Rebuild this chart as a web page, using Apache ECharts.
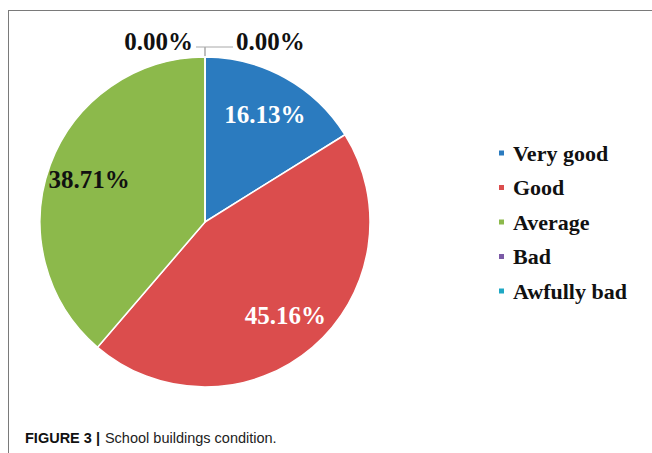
<!DOCTYPE html>
<html>
<head>
<meta charset="utf-8">
<script src="https://cdn.jsdelivr.net/npm/echarts@6/dist/echarts.min.js"></script>
<style>
  html, body { margin: 0; padding: 0; background: #fff; }
  #chart { position: absolute; left: 0; top: 0; width: 652px; height: 453px; }
  #frame { position: absolute; left: 8px; top: 10px; width: 660px; height: 460px;
           border-top: 1.5px solid #7a7a7a; border-left: 1.5px solid #7a7a7a; pointer-events: none; }
</style>
</head>
<body>
<div id="chart"></div>
<div id="frame"></div>
<script>
// ---- data ----
var categories = ['Very good', 'Good', 'Average', 'Bad', 'Awfully bad'];
var counts = [5, 14, 12, 0, 0];
var captionBold = 'FIGURE 3 |';
var captionText = 'School buildings condition.';

// ---- styles ----
var sliceColors = {
  'Very good': '#2b7bbf',
  'Good': '#db4d4d',
  'Average': '#8cb94b',
  'Bad': '#7b5aa6',
  'Awfully bad': '#1fa8c4'
};
var insideLabelColors = {
  'Very good': '#ffffff',
  'Good': '#ffffff',
  'Average': '#111111'
};
// leader-line second segment per zero slice (left one shorter, right one longer)
var leaderLength2 = { 'Bad': 9, 'Awfully bad': 28 };

// Order drawn: put one zero slice at the start and one at the end so their
// labels fall on either side of the 12 o'clock point, as in the reference.
var drawOrder = [4, 0, 1, 2, 3];

var serif = "'Liberation Serif', 'Times New Roman', serif";

var mainData = drawOrder.map(function (i) {
  var zero = counts[i] === 0;
  var name = categories[i];
  return {
    name: name,
    value: counts[i],
    itemStyle: { color: sliceColors[name] },
    label: { show: zero },
    labelLine: { show: zero, length2: leaderLength2[name] || 10 }
  };
});
var overlayData = drawOrder.map(function (i) {
  var zero = counts[i] === 0;
  return {
    name: categories[i],
    value: counts[i],
    label: { show: !zero, color: insideLabelColors[categories[i]] || '#111' }
  };
});

function pct(p) { return p.percent.toFixed(2) + '%'; }
function pctRaised(p) { return '{t|' + p.percent.toFixed(2) + '%}\n{s|}'; }

var chart = echarts.init(document.getElementById('chart'), null, { renderer: 'svg' });
chart.setOption({
  animation: false,
  backgroundColor: '#ffffff',
  title: {
    left: 25,
    top: 429,
    padding: 0,
    text: '{b|' + captionBold + '} {n|' + captionText + '}',
    textStyle: {
      rich: {
        b: { fontFamily: "'Liberation Sans', Arial, sans-serif", fontWeight: 'bold', fontSize: 14.5, color: '#111' },
        n: { fontFamily: "'Liberation Sans', Arial, sans-serif", fontWeight: 'normal', fontSize: 14.5, color: '#222' }
      }
    }
  },
  legend: {
    orient: 'vertical',
    left: 497,
    top: 142,
    padding: 0,
    data: categories,
    icon: 'rect',
    itemWidth: 7,
    itemHeight: 7,
    itemGap: 12.5,
    selectedMode: false,
    textStyle: { fontFamily: serif, fontWeight: 'bold', fontSize: 22, lineHeight: 22, color: '#111', padding: [0, 0, 0, 3] }
  },
  series: [
    {
      type: 'pie',
      center: [205, 222],
      radius: 165,
      startAngle: 90,
      clockwise: true,
      minAngle: 0.02,
      silent: true,
      itemStyle: { borderColor: '#ffffff', borderWidth: 1.5 },
      label: {
        position: 'outside',
        formatter: pctRaised,
        distanceToLabelLine: 3,
        rich: {
          t: { fontFamily: serif, fontWeight: 'bold', fontSize: 25, lineHeight: 25, color: '#111' },
          s: { fontSize: 1, lineHeight: 12 }
        }
      },
      labelLine: { length: 10, length2: 12, smooth: false, lineStyle: { color: '#a8a8a8', width: 1 } },
      data: mainData
    },
    {
      type: 'pie',
      center: [205, 222],
      radius: [76, 165],
      startAngle: 90,
      clockwise: true,
      minAngle: 0.02,
      silent: true,
      legendHoverLink: false,
      itemStyle: { color: 'rgba(0,0,0,0)', borderWidth: 0 },
      label: {
        position: 'inside',
        formatter: pct,
        fontFamily: serif, fontWeight: 'bold', fontSize: 25
      },
      labelLine: { show: false },
      data: overlayData
    }
  ]
});
</script>
</body>
</html>
